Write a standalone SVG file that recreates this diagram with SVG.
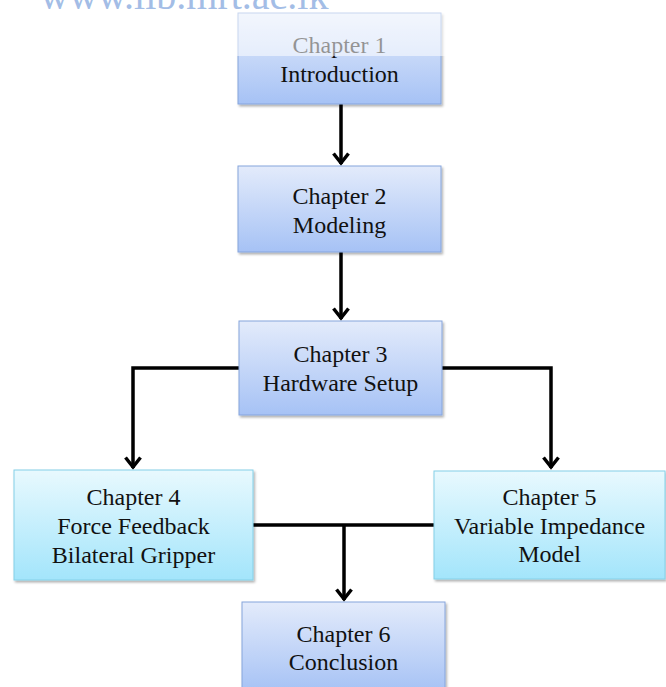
<svg xmlns="http://www.w3.org/2000/svg" width="666" height="687" viewBox="0 0 666 687">
  <defs>
    <linearGradient id="gBlue" x1="0" y1="0" x2="0" y2="1">
      <stop offset="0" stop-color="#e3ebfb"/>
      <stop offset="1" stop-color="#a6c2f5"/>
    </linearGradient>
    <linearGradient id="gCyan" x1="0" y1="0" x2="0" y2="1">
      <stop offset="0" stop-color="#e8f9fe"/>
      <stop offset="1" stop-color="#a3e5fb"/>
    </linearGradient>
    <filter id="shadow" x="-5%" y="-5%" width="112%" height="115%">
      <feDropShadow dx="1.5" dy="2" stdDeviation="1.2" flood-color="#000" flood-opacity="0.3"/>
    </filter>
    <!-- open chevron head, drawn pointing along +x so orient="auto" turns it -->
    <marker id="arrow" viewBox="0 0 14 18" refX="12" refY="9" markerWidth="14" markerHeight="18" markerUnits="userSpaceOnUse" orient="auto">
      <path d="M1.5,1.5 L11,9 L1.5,16.5" fill="none" stroke="#000" stroke-width="3.5"/>
    </marker>
  </defs>
  <style>
    .blue { fill: url(#gBlue); stroke: #86a5dc; stroke-width: 1; filter: url(#shadow); }
    .cyan { fill: url(#gCyan); stroke: #84d0e8; stroke-width: 1; filter: url(#shadow); }
    .lbl { font-family: "Liberation Serif", "Times New Roman", serif; font-size: 24px; fill: #111; text-anchor: middle; }
    .wire { fill: none; stroke: #000; stroke-width: 3.5; }
    .mark { font-family: "Liberation Serif", "Times New Roman", serif; font-size: 40px; fill: #a3bde6; }
  </style>

  <rect width="666" height="687" fill="#fff"/>

  <!-- connectors -->
  <g id="connectors">
    <line class="wire" x1="341" y1="104" x2="341" y2="164" marker-end="url(#arrow)"/>
    <line class="wire" x1="341" y1="252" x2="341" y2="319" marker-end="url(#arrow)"/>
    <polyline class="wire" points="239,368 133,368 133,468" marker-end="url(#arrow)"/>
    <polyline class="wire" points="441,368 551,368 551,468" marker-end="url(#arrow)"/>
    <line class="wire" x1="253" y1="525" x2="434" y2="525"/>
    <line class="wire" x1="344" y1="525" x2="344" y2="600" marker-end="url(#arrow)"/>
  </g>

  <g id="chapter1">
    <rect class="blue" x="238" y="13" width="203" height="91"/>
    <text class="lbl" x="339.5" y="53">Chapter 1</text>
    <text class="lbl" x="339.5" y="82">Introduction</text>
  </g>

  <g id="chapter2">
    <rect class="blue" x="238" y="166" width="203" height="86"/>
    <text class="lbl" x="339.5" y="204">Chapter 2</text>
    <text class="lbl" x="339.5" y="233">Modeling</text>
  </g>

  <g id="chapter3">
    <rect class="blue" x="239" y="321" width="203" height="94"/>
    <text class="lbl" x="340.5" y="362">Chapter 3</text>
    <text class="lbl" x="340.5" y="391">Hardware Setup</text>
  </g>

  <g id="chapter4">
    <rect class="cyan" x="14" y="470" width="239" height="110"/>
    <text class="lbl" x="133.5" y="505">Chapter 4</text>
    <text class="lbl" x="133.5" y="534">Force Feedback</text>
    <text class="lbl" x="133.5" y="563">Bilateral Gripper</text>
  </g>

  <g id="chapter5">
    <rect class="cyan" x="434" y="471" width="231" height="108"/>
    <text class="lbl" x="549.5" y="505">Chapter 5</text>
    <text class="lbl" x="549.5" y="534">Variable Impedance</text>
    <text class="lbl" x="549.5" y="562">Model</text>
  </g>

  <g id="chapter6">
    <rect class="blue" x="242" y="602" width="203" height="90"/>
    <text class="lbl" x="343.5" y="642">Chapter 6</text>
    <text class="lbl" x="343.5" y="670">Conclusion</text>
  </g>

  <!-- library stamp across the top edge, with its pale wash -->
  <g id="stamp">
    <rect x="0" y="0" width="666" height="56" fill="#fff" opacity="0.55"/>
    <text class="mark" x="40" y="9">www.lib.mrt.ac.lk</text>
  </g>
</svg>
